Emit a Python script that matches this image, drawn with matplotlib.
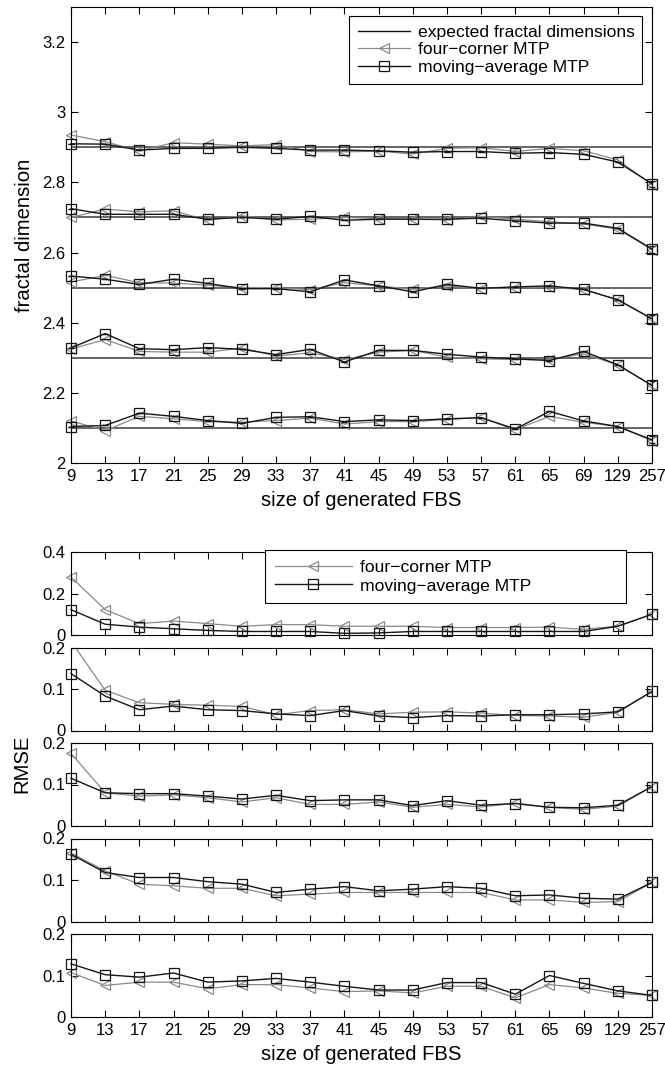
import matplotlib
matplotlib.use('Agg')
import matplotlib.pyplot as plt
import numpy as np
from matplotlib.lines import Line2D

plt.rcParams['font.family'] = ['Liberation Sans', 'DejaVu Sans']

# ---------------- data ----------------
sizes = ['9', '13', '17', '21', '25', '29', '33', '37', '41', '45', '49',
         '53', '57', '61', '65', '69', '129', '257']
expected = [2.9, 2.7, 2.5, 2.3, 2.1]

# fractal dimension estimates (four-corner MTP)
fc_29 = [2.935, 2.916, 2.890, 2.913, 2.909, 2.904, 2.908, 2.888, 2.887, 2.889, 2.881,
         2.897, 2.899, 2.888, 2.897, 2.890, 2.864, 2.793]
fc_27 = [2.700, 2.724, 2.716, 2.719, 2.692, 2.705, 2.693, 2.695, 2.700, 2.697, 2.695,
         2.693, 2.703, 2.695, 2.688, 2.681, 2.667, 2.608]
fc_25 = [2.516, 2.535, 2.514, 2.513, 2.507, 2.500, 2.500, 2.494, 2.514, 2.505, 2.495,
         2.505, 2.497, 2.500, 2.502, 2.494, 2.466, 2.412]
fc_23 = [2.325, 2.352, 2.318, 2.316, 2.316, 2.328, 2.305, 2.314, 2.295, 2.316, 2.321,
         2.302, 2.297, 2.295, 2.295, 2.311, 2.280, 2.221]
fc_21 = [2.120, 2.092, 2.133, 2.126, 2.118, 2.116, 2.121, 2.128, 2.111, 2.118, 2.118,
         2.124, 2.130, 2.095, 2.133, 2.116, 2.104, 2.064]

# fractal dimension estimates (moving-average MTP)
ma_29 = [2.910, 2.909, 2.892, 2.897, 2.897, 2.900, 2.897, 2.892, 2.892, 2.890, 2.886,
         2.888, 2.888, 2.883, 2.885, 2.880, 2.858, 2.796]
ma_27 = [2.725, 2.709, 2.709, 2.709, 2.695, 2.700, 2.695, 2.703, 2.692, 2.695, 2.695,
         2.695, 2.698, 2.690, 2.684, 2.684, 2.669, 2.610]
ma_25 = [2.533, 2.524, 2.509, 2.524, 2.512, 2.497, 2.497, 2.488, 2.522, 2.505, 2.488,
         2.509, 2.498, 2.502, 2.505, 2.495, 2.465, 2.411]
ma_23 = [2.328, 2.369, 2.326, 2.323, 2.329, 2.324, 2.309, 2.324, 2.288, 2.321, 2.321,
         2.310, 2.302, 2.297, 2.292, 2.318, 2.280, 2.221]
ma_21 = [2.104, 2.107, 2.142, 2.133, 2.121, 2.113, 2.130, 2.132, 2.118, 2.123, 2.121,
         2.126, 2.129, 2.097, 2.147, 2.120, 2.104, 2.066]

# spread of the moving-average estimate (visible only at the largest size)
ma_std = {
    2.9: [0, 0, 0, 0, 0, 0, 0, 0, 0, 0, 0, 0, 0, 0, 0, 0, 0, 0.008],
    2.7: [0, 0, 0, 0, 0, 0, 0, 0, 0, 0, 0, 0, 0, 0, 0, 0, 0, 0.010],
    2.5: [0, 0, 0, 0, 0, 0, 0, 0, 0, 0, 0, 0, 0, 0, 0, 0, 0, 0.012],
    2.3: [0, 0, 0, 0, 0, 0, 0, 0, 0, 0, 0, 0, 0, 0, 0, 0, 0, 0.014],
    2.1: [0, 0, 0, 0, 0, 0, 0, 0, 0, 0, 0, 0, 0, 0, 0, 0, 0, 0.010],
}

# RMSE (four-corner MTP)
rmse_fc_29 = [0.280, 0.122, 0.055, 0.067, 0.055, 0.042, 0.050, 0.050, 0.042, 0.042, 0.042,
              0.036, 0.036, 0.036, 0.038, 0.027, 0.043, 0.100]
rmse_fc_27 = [0.215, 0.097, 0.067, 0.063, 0.061, 0.058, 0.038, 0.048, 0.050, 0.040, 0.044,
              0.045, 0.042, 0.036, 0.035, 0.032, 0.044, 0.094]
rmse_fc_25 = [0.175, 0.080, 0.072, 0.075, 0.068, 0.058, 0.068, 0.052, 0.052, 0.058, 0.045,
              0.052, 0.046, 0.055, 0.045, 0.040, 0.048, 0.095]
rmse_fc_23 = [0.165, 0.122, 0.090, 0.086, 0.080, 0.080, 0.062, 0.066, 0.070, 0.070, 0.070,
              0.070, 0.070, 0.052, 0.052, 0.046, 0.048, 0.094]
rmse_fc_21 = [0.107, 0.076, 0.084, 0.084, 0.068, 0.078, 0.078, 0.070, 0.061, 0.063, 0.058,
              0.074, 0.074, 0.046, 0.078, 0.070, 0.057, 0.052]

# RMSE (moving-average MTP)
rmse_ma_29 = [0.122, 0.052, 0.038, 0.030, 0.022, 0.017, 0.017, 0.017, 0.008, 0.010, 0.017,
              0.017, 0.017, 0.017, 0.017, 0.017, 0.042, 0.100]
rmse_ma_27 = [0.137, 0.083, 0.050, 0.059, 0.050, 0.048, 0.040, 0.036, 0.048, 0.035, 0.031,
              0.036, 0.035, 0.038, 0.038, 0.040, 0.045, 0.094]
rmse_ma_25 = [0.115, 0.080, 0.078, 0.078, 0.072, 0.065, 0.074, 0.061, 0.063, 0.063, 0.049,
              0.061, 0.050, 0.054, 0.045, 0.044, 0.050, 0.095]
rmse_ma_23 = [0.162, 0.118, 0.106, 0.106, 0.096, 0.090, 0.070, 0.078, 0.084, 0.074, 0.078,
              0.084, 0.080, 0.062, 0.064, 0.056, 0.054, 0.094]
rmse_ma_21 = [0.128, 0.102, 0.096, 0.106, 0.084, 0.087, 0.093, 0.084, 0.074, 0.065, 0.065,
              0.083, 0.083, 0.055, 0.100, 0.081, 0.063, 0.052]

fd_fc = [fc_29, fc_27, fc_25, fc_23, fc_21]
fd_ma = [ma_29, ma_27, ma_25, ma_23, ma_21]
rmse_fc = [rmse_fc_29, rmse_fc_27, rmse_fc_25, rmse_fc_23, rmse_fc_21]
rmse_ma = [rmse_ma_29, rmse_ma_27, rmse_ma_25, rmse_ma_23, rmse_ma_21]
rmse_ylims = [0.4, 0.2, 0.2, 0.2, 0.2]

# ---------------- style ----------------
W, H = 665, 1071
fig = plt.figure(figsize=(W / 100, H / 100), dpi=100)

C_FC = '#8a8a8a'
C_MA = '#151515'
C_EXP = '#4a4a4a'
TICK_FS = 12
LAB_FS = 14.6
LEG_FS = 12.6
x = np.arange(1, len(sizes) + 1)


def px_axes(left, top, right, bottom):
    return fig.add_axes([left / W, 1 - bottom / H, (right - left) / W, (bottom - top) / H])


def style(ax):
    ax.tick_params(direction='in', top=True, right=True, length=5, width=0.8,
                   labelsize=TICK_FS, pad=4)
    for s in ax.spines.values():
        s.set_linewidth(0.8)
    ax.set_xlim(1, len(sizes))
    ax.set_xticks(x)


fc_kw = dict(color=C_FC, lw=0.9, marker='<', ms=7, mfc='none', mec=C_FC, mew=0.9)
ma_kw = dict(color=C_MA, lw=1.0, marker='s', ms=6.5, mfc='none', mec=C_MA, mew=0.9)

# ---------------- top panel ----------------
ax = px_axes(71, 7, 652, 463)
style(ax)
for e, fc, ma in zip(expected, fd_fc, fd_ma):
    ax.axhline(e, color=C_EXP, lw=1.2, zorder=1)
    ax.plot(x, fc, zorder=2, clip_on=False, **fc_kw)
    ax.errorbar(x, ma, yerr=ma_std[e], capsize=2.5, elinewidth=0.8, capthick=0.8,
                ecolor=C_MA, zorder=3, clip_on=False, **ma_kw)
ax.set_ylim(2, 3.3)
ax.set_yticks([2, 2.2, 2.4, 2.6, 2.8, 3, 3.2])
ax.set_yticklabels(['2', '2.2', '2.4', '2.6', '2.8', '3', '3.2'])
ax.set_xticklabels(sizes)
ax.set_xlabel('size of generated FBS', fontsize=LAB_FS, labelpad=5)
ax.set_ylabel('fractal dimension', fontsize=LAB_FS, labelpad=6)

handles = [Line2D([], [], color='#111111', lw=1.0),
           Line2D([], [], **fc_kw),
           Line2D([], [], **ma_kw)]
leg = ax.legend(handles, ['expected fractal dimensions', 'four\u2212corner MTP',
                          'moving\u2212average MTP'],
                loc='upper left', bbox_to_anchor=(0.4785, 0.0, 0.5045, 0.980),
                mode='expand', borderaxespad=0, fontsize=LEG_FS, frameon=True,
                fancybox=False, edgecolor='black', framealpha=1,
                handlelength=3.0, handletextpad=0.45, labelspacing=0.12,
                borderpad=0.5, numpoints=1)
leg.get_frame().set_linewidth(0.8)

# ---------------- RMSE panels ----------------
top0, bottom_end = 552, 1017
n = 5
gap = 12.5
h = (bottom_end - top0 - gap * (n - 1)) / n
axes = []
for i in range(n):
    t = top0 + i * (h + gap)
    a = px_axes(71, t, 652, t + h)
    style(a)
    ym = rmse_ylims[i]
    a.plot(x, rmse_fc[i], zorder=2, clip_on=max(rmse_fc[i]) > ym, **fc_kw)
    a.plot(x, rmse_ma[i], zorder=3, clip_on=max(rmse_ma[i]) > ym, **ma_kw)
    a.set_ylim(0, ym)
    if ym == 0.4:
        a.set_yticks([0, 0.2, 0.4])
        a.set_yticklabels(['0', '0.2', '0.4'])
    else:
        a.set_yticks([0, 0.1, 0.2])
        a.set_yticklabels(['0', '0.1', '0.2'])
    if i < n - 1:
        a.set_xticklabels([])
    else:
        a.set_xticklabels(sizes)
        a.set_xlabel('size of generated FBS', fontsize=LAB_FS, labelpad=5)
    axes.append(a)

leg2 = axes[0].legend([Line2D([], [], **fc_kw), Line2D([], [], **ma_kw)],
                      ['four\u2212corner MTP', 'moving\u2212average MTP'],
                      loc='upper left', bbox_to_anchor=(0.334, 0.0, 0.621, 1.025),
                      mode='expand', borderaxespad=0, fontsize=LEG_FS, frameon=True,
                      fancybox=False, edgecolor='black', framealpha=1,
                      handlelength=4.4, handletextpad=0.45, labelspacing=0.2,
                      borderpad=0.55, numpoints=1)
leg2.get_frame().set_linewidth(0.8)

fig.text(22 / W, 1 - 764 / H, 'RMSE', rotation=90, fontsize=LAB_FS,
         ha='center', va='center')

fig.savefig('out.png', dpi=100)
